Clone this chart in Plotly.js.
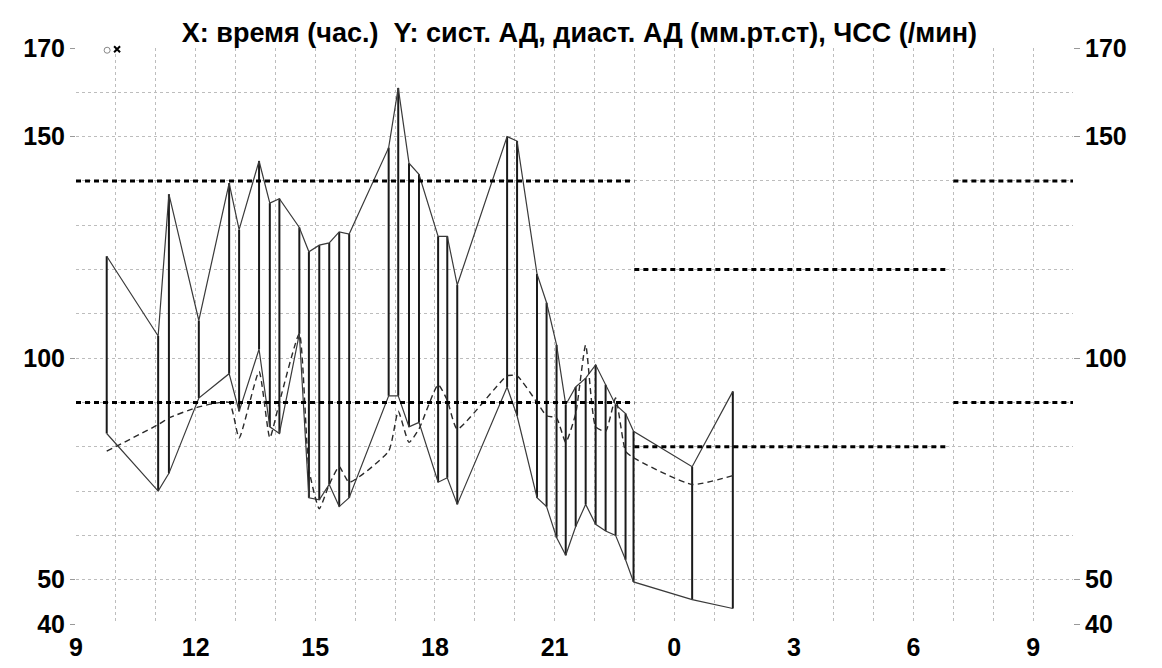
<!DOCTYPE html>
<html>
<head>
<meta charset="utf-8">
<script src="https://cdn.plot.ly/plotly-3.0.1.min.js"></script>
<style>html,body{margin:0;padding:0;background:#fff;}#chart{width:1162px;height:668px;}</style>
</head>
<body>
<div id="chart"></div>
<script>
// measurement times (hours, continuing past midnight as 24+)
const times = [9.77, 11.06, 11.33, 12.08, 12.84, 13.09, 13.59, 13.86, 14.10, 14.60,
  14.84, 15.10, 15.35, 15.60, 15.85, 16.84, 17.08, 17.35, 17.60, 18.08,
  18.31, 18.56, 19.81, 20.06, 20.56, 20.80, 21.05, 21.28, 21.53, 21.78,
  22.03, 22.28, 22.53, 22.78, 22.98, 24.45, 25.47];
// systolic BP
const sys = [123, 105, 137, 108.5, 139.5, 129, 144.5, 135, 136, 129.5,
  124, 125.5, 126, 128.5, 128, 147.5, 161, 144, 141.5, 127.5,
  127.5, 116.5, 150, 149, 119, 112.5, 103, 89.5, 93.5, 95.5,
  98.5, 94, 89.5, 87.5, 83.5, 75.5, 92.5];
// diastolic BP
const dia = [83, 70, 74, 91, 96.5, 88, 102, 84.5, 83, 105.5,
  68.5, 68, 71.5, 66.5, 68.5, 91.5, 91.5, 84.5, 85.5, 72,
  73, 67, 93.5, 87, 68.5, 66.5, 59.5, 55.5, 62, 67,
  62.5, 61, 60, 54.5, 49.5, 45.5, 43.5];
// heart rate
const hr = [79, 85, 86.5, 89, 90, 82, 97, 82, 90, 105.5,
  75, 66, 71.5, 75.5, 72, 79, 88, 81, 84, 94,
  90.5, 84, 96, 96, 90, 87, 86.5, 81, 87.5, 103,
  84.5, 83.5, 91, 79, 77.5, 71.5, 73.5];

// day / night threshold limits
const periodStart = [9, 23, 31];
const periodEnd = [23, 30.9, 34];
const sysLimit = [140, 120, 140];
const diaLimit = [90, 80, 90];

// axis ticks
const xTickVals = [9, 12, 15, 18, 21, 24, 27, 30, 33];
const xTickText = ['9', '12', '15', '18', '21', '0', '3', '6', '9'];
const yTickVals = [40, 50, 100, 150, 170];
const yTickText = ['40', '50', '100', '150', '170'];

// small symbols in top-left corner
const symX = [9.78, 10.03];
const symY = [169.5, 169.7];

const title = 'X: время (час.)  Y: сист. АД, диаст. АД (мм.рт.ст), ЧСС (/мин)';

// vertical connectors
const vx = [], vy = [];
times.forEach((t, i) => { vx.push(t, t, null); vy.push(dia[i], sys[i], null); });
// threshold segments
const sx = [], sy = [], dx = [], dy = [];
periodStart.forEach((s, i) => {
  sx.push(s, periodEnd[i], null); sy.push(sysLimit[i], sysLimit[i], null);
  dx.push(s, periodEnd[i], null); dy.push(diaLimit[i], diaLimit[i], null);
});

const traces = [
  {x: sx, y: sy, mode: 'lines', line: {color: '#000', width: 3, dash: '5px,4px'}, yaxis: 'y2', hoverinfo: 'skip'},
  {x: dx, y: dy, mode: 'lines', line: {color: '#000', width: 3, dash: '5px,4px'}, yaxis: 'y2', hoverinfo: 'skip'},
  {x: vx, y: vy, mode: 'lines', line: {color: '#1a1a1a', width: 2}, connectgaps: false},
  {x: times, y: sys, mode: 'lines', line: {color: '#3a3a3a', width: 1.2}},
  {x: times, y: dia, mode: 'lines', line: {color: '#3a3a3a', width: 1.2}},
  {x: times, y: hr, mode: 'lines', line: {color: '#2a2a2a', width: 1.4, dash: '6px,4px', shape: 'spline', smoothing: 0.5}},
  {x: [symX[0]], y: [symY[0]], mode: 'markers', marker: {symbol: 'circle-open', size: 6, color: '#888', line: {width: 1}}, cliponaxis: false},
  {x: [symX[1]], y: [symY[1]], mode: 'markers', marker: {symbol: 'x-thin-open', size: 6, color: '#000', line: {width: 2}}, cliponaxis: false}
];

const tickFont = {family: 'Liberation Sans, Arial, sans-serif', size: 25, color: '#000', weight: 'bold'};
const gridStyle = {showgrid: true, gridcolor: '#bdbdbd', gridwidth: 1, griddash: 'dot'};

const layout = {
  width: 1162, height: 668,
  margin: {l: 76, r: 89, t: 48, b: 44},
  paper_bgcolor: '#fff', plot_bgcolor: '#fff',
  showlegend: false,
  title: {text: title, x: 0.505, xanchor: 'center', xref: 'paper', y: 1 - 33/668, yanchor: 'middle', yref: 'container',
    font: {family: 'Liberation Sans, Arial, sans-serif', size: 27, color: '#000', weight: 'bold'}},
  xaxis: Object.assign({range: [9, 34], tickmode: 'array', tickvals: xTickVals, ticktext: xTickText,
    ticks: '', tickfont: tickFont, zeroline: false, showline: false, ticklabelstandoff: 6,
    minor: {dtick: 1, tick0: 0, showgrid: true, gridcolor: '#bdbdbd', gridwidth: 1, griddash: 'dot', ticks: ''}}, gridStyle),
  yaxis: Object.assign({range: [40, 170], tickmode: 'array', tickvals: yTickVals, ticktext: yTickText,
    ticks: 'outside', ticklen: 5, tickcolor: '#999', tickfont: tickFont, zeroline: false, showline: false,
    minor: {dtick: 10, tick0: 0, showgrid: true, gridcolor: '#bdbdbd', gridwidth: 1, griddash: 'dot', ticks: ''}}, gridStyle),
  yaxis2: {range: [40, 170], overlaying: 'y', side: 'right', tickmode: 'array', tickvals: yTickVals, ticktext: yTickText,
    ticks: 'outside', ticklen: 6, tickcolor: '#999', tickfont: tickFont, showgrid: false, zeroline: false, showline: false}
};

Plotly.newPlot('chart', traces, layout, {staticPlot: true, displayModeBar: false});
</script>
</body>
</html>
